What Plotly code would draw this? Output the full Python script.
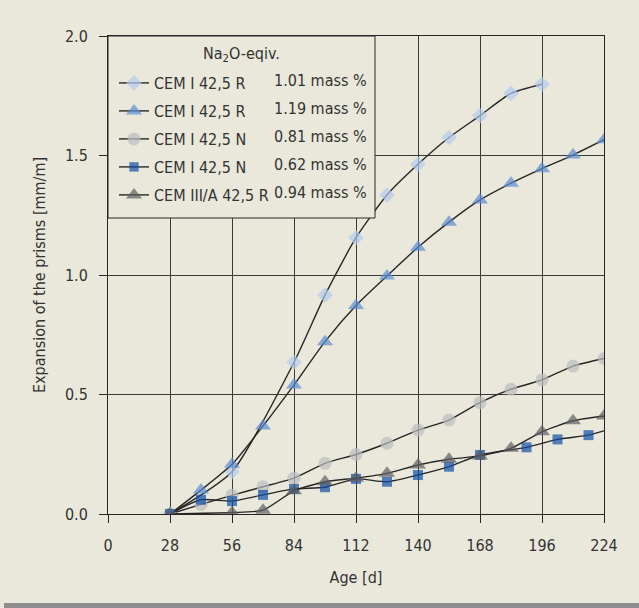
import plotly.graph_objects as go

# ---- data ----
days_a = [28, 56, 84, 98, 112, 126, 140, 154, 168, 182, 196]
exp_a = [0.0, 0.177, 0.635, 0.916, 1.156, 1.335, 1.463, 1.575, 1.667, 1.76, 1.798]

days_b = [28, 42, 56, 70, 84, 98, 112, 126, 140, 154, 168, 182, 196, 210, 224]
exp_b = [0.0, 0.10, 0.208, 0.368, 0.54, 0.721, 0.872, 0.996, 1.116, 1.221, 1.314, 1.384, 1.445, 1.502, 1.566]

days_c = [28, 42, 56, 70, 84, 98, 112, 126, 140, 154, 168, 182, 196, 210, 224]
exp_c = [0.0, 0.04, 0.078, 0.114, 0.15, 0.212, 0.249, 0.296, 0.351, 0.393, 0.466, 0.522, 0.561, 0.619, 0.651]

days_d = [28, 42, 56, 70, 84, 98, 112, 126, 140, 154, 168, 189, 203, 217, 224]
exp_d = [0.0, 0.06, 0.054, 0.08, 0.105, 0.112, 0.147, 0.135, 0.163, 0.198, 0.247, 0.279, 0.312, 0.330, 0.348]

days_e = [28, 56, 70, 84, 98, 112, 126, 140, 154, 168, 182, 196, 210, 224]
exp_e = [0.0, 0.006, 0.016, 0.097, 0.135, 0.15, 0.17, 0.205, 0.229, 0.243, 0.275, 0.344, 0.39, 0.41]

cements = ["CEM I 42,5 R", "CEM I 42,5 R", "CEM I 42,5 N", "CEM I 42,5 N", "CEM III/A 42,5 R"]
na2o = ["1.01 mass %", "1.19 mass %", "0.81 mass %", "0.62 mass %", "0.94 mass %"]
legend_title = "Na<sub>2</sub>O-eqiv."
x_ticks = [0, 28, 56, 84, 112, 140, 168, 196, 224]
y_ticks = [0.0, 0.5, 1.0, 1.5, 2.0]

# ---- style ----
FONT = "DejaVu Sans Condensed, Liberation Sans Narrow, Liberation Sans, sans-serif"
FS = 16
BG = "#EAE8DA"
TXT = "#333333"
LINE = "#262626"

# plot-area geometry in pixels (for placing legend pieces)
L, R, T, B = 108, 35, 36, 94
PW, PH = 639 - L - R, 608 - T - B


def px_x(px):
    return (px - L) / PW


def px_y(py):
    return (608 - B - py) / PH


series = [
    (days_a, exp_a, "diamond", "#B2CAEE", 12),
    (days_b, exp_b, "triangle-up", "#5C8DD3", 14),
    (days_c, exp_c, "circle", "#BABDC0", 13),
    (days_d, exp_d, "square", "#0F4EA6", 10),
    (days_e, exp_e, "triangle-up", "#5E6062", 14),
]

fig = go.Figure()
for i, (xs, ys, sym, col, sz) in enumerate(series):
    sizes = [sz] * len(xs)
    if i == 3:
        sizes[-1] = 0  # line end without marker
    fig.add_trace(go.Scatter(
        x=xs, y=ys, mode="lines+markers",
        name=cements[i],
        legendgroup=f"g{i}",
        line=dict(color=LINE, width=1.4, shape="spline", smoothing=0.6),
        marker=dict(symbol=sym, color=col, size=sizes, line=dict(width=0)),
    ))

# legend box (drawn as shape so it can be sized like the reference)
fig.add_shape(type="rect", xref="paper", yref="paper",
              x0=0, x1=px_x(375), y0=px_y(218), y1=1,
              line=dict(color=LINE, width=1), fillcolor=BG, layer="above")

# legend title
fig.add_annotation(x=px_x(241), y=px_y(54), xref="paper", yref="paper",
                   text=legend_title, showarrow=False, xanchor="center", yanchor="middle",
                   font=dict(family=FONT, size=FS, color=TXT))

# second legend column
row_px = [80.5, 108.5, 136.5, 164.5, 192.5]
for txt, py in zip(na2o, row_px):
    fig.add_annotation(
        x=px_x(369), y=px_y(py), xref="paper", yref="paper",
        text=txt, showarrow=False, xanchor="right", yanchor="middle",
        font=dict(family=FONT, size=FS, color=TXT),
    )

# bottom gray strip of the scan
fig.add_shape(type="rect", xref="paper", yref="paper",
              x0=px_x(4), x1=px_x(639), y0=px_y(608), y1=px_y(603),
              line=dict(width=0), fillcolor="#8E8E8E", layer="below")

axis_common = dict(
    showline=True, mirror=True, linecolor=LINE, linewidth=1,
    showgrid=True, gridcolor="#3a3a3a", gridwidth=1,
    ticks="outside", ticklen=8, tickcolor=LINE, tickwidth=1,
    tickfont=dict(family=FONT, size=FS, color=TXT),
    zeroline=False,
)

fig.update_layout(
    width=639, height=608,
    margin=dict(l=L, r=R, t=T, b=B),
    paper_bgcolor=BG, plot_bgcolor=BG,
    font=dict(family=FONT, size=FS, color=TXT),
    xaxis=dict(range=[0, 224], tickvals=x_ticks, ticktext=[str(v) for v in x_ticks],
               ticklabelstandoff=9,
               title=dict(text="Age [d]", font=dict(family=FONT, size=FS, color=TXT), standoff=17),
               **axis_common),
    yaxis=dict(range=[0, 2], tickvals=y_ticks, ticktext=[f"{v:.1f}" for v in y_ticks],
               ticklabelstandoff=8,
               title=dict(text="Expansion of the prisms [mm/m]", font=dict(family=FONT, size=FS, color=TXT), standoff=15),
               **axis_common),
    legend=dict(
        x=px_x(114), y=px_y(66), xanchor="left", yanchor="top",
        bgcolor="rgba(0,0,0,0)", borderwidth=0,
        font=dict(family=FONT, size=FS, color=TXT),
        tracegroupgap=4.2, itemwidth=30,
    ),
    showlegend=True,
)

fig.write_html("out.html")
